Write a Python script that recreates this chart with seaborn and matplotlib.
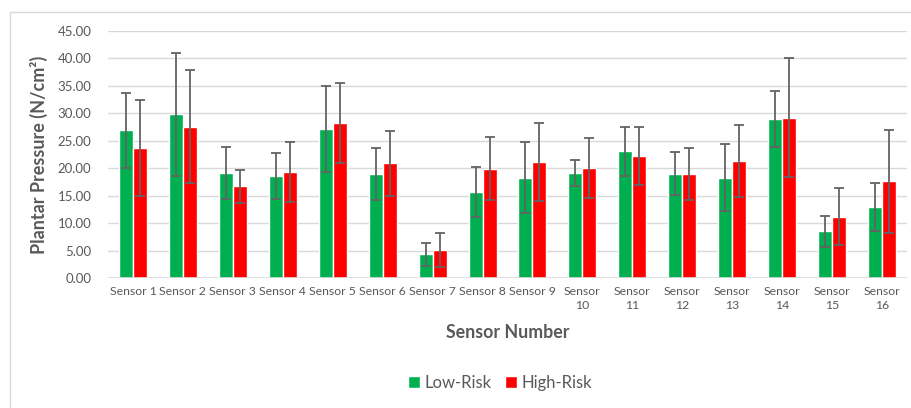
import numpy as np
import pandas as pd
import matplotlib.pyplot as plt
import seaborn as sns
from matplotlib.patches import Rectangle

# values
sensors = ["Sensor %d" % i for i in range(1, 17)]
tick_labels = ["Sensor 1", "Sensor 2", "Sensor 3", "Sensor 4", "Sensor 5", "Sensor 6",
               "Sensor 7", "Sensor 8", "Sensor 9", "Sensor\n10", "Sensor\n11", "Sensor\n12",
               "Sensor\n13", "Sensor\n14", "Sensor\n15", "Sensor\n16"]
low_mean = [26.9, 29.8, 19.1, 18.6, 27.1, 19.0, 4.3, 15.7, 18.3, 19.1, 23.1, 19.0, 18.3, 29.0, 8.5, 12.9]
low_sd = [6.8, 11.2, 4.7, 4.2, 7.8, 4.7, 2.1, 4.6, 6.5, 2.4, 4.5, 3.9, 6.1, 5.1, 2.8, 4.4]
high_mean = [23.7, 27.6, 16.7, 19.3, 28.3, 20.9, 5.1, 19.9, 21.1, 20.0, 22.2, 19.0, 21.3, 29.2, 11.2, 17.6]
high_sd = [8.7, 10.3, 3.0, 5.5, 7.3, 5.9, 3.1, 5.7, 7.1, 5.5, 5.3, 4.7, 6.6, 10.8, 5.2, 9.4]
groups = ["Low-Risk", "High-Risk"]

df = pd.DataFrame({
    "Sensor": sensors * 2,
    "Pressure": low_mean + high_mean,
    "Group": [groups[0]] * 16 + [groups[1]] * 16,
})
sds = {groups[0]: low_sd, groups[1]: high_sd}

sns.set_style("white")
plt.rcParams['font.family'] = ['Lato', 'DejaVu Sans']
txt = "#595959"

fig = plt.figure(figsize=(9.12, 4.08), dpi=100)
ax = fig.add_axes([108/912, 130/408, 799/912, 247/408])

sns.barplot(data=df, x="Sensor", y="Pressure", hue="Group", palette=["#00B050", "#FF0000"],
            width=0.56, saturation=1, errorbar=None, ax=ax)

# error bars (SD) on top of each bar
for cont, g in zip(ax.containers, groups):
    xs = [b.get_x() + b.get_width() / 2 for b in cont]
    ys = [b.get_height() for b in cont]
    ax.errorbar(xs, ys, yerr=sds[g], fmt="none", ecolor="#636363",
                elinewidth=1.3, capsize=3.5, capthick=1.3, zorder=3)

ax.set_xlim(-0.5, 15.5)
ax.set_ylim(0, 45)
ax.set_yticks(np.arange(0, 46, 5))
ax.set_yticklabels(["%.2f" % v for v in np.arange(0, 46, 5)])
ax.set_xticks(range(16))
ax.set_xticklabels(tick_labels, linespacing=1.35)
ax.tick_params(axis="y", length=0, pad=12, labelsize=9.5, labelcolor=txt)
ax.tick_params(axis="x", length=0, pad=6, labelsize=8.8, labelcolor=txt)
ax.yaxis.grid(True, color="#d9d9d9", lw=1)
ax.set_axisbelow(True)
for s in ax.spines.values():
    s.set_visible(False)
ax.axhline(0, color="#d9d9d9", lw=1.2, zorder=1)

ax.set_ylabel("Plantar Pressure (N/cm²)", fontsize=13, fontweight="bold", color=txt, labelpad=7)
ax.set_xlabel("Sensor Number", fontsize=12.8, fontweight="bold", color=txt, labelpad=9)

h, l = ax.get_legend_handles_labels()
ax.get_legend().remove()
fig.legend(h, l, loc="center", bbox_to_anchor=(500/912, 1 - 383/408), ncol=2, frameon=False,
           fontsize=12, labelcolor=txt, handlelength=0.7, handleheight=0.7,
           handletextpad=0.3, columnspacing=0.8)

# light chart-area border
fig.patches.append(Rectangle((10/912, -0.1), 1.1, 1.1 - 12/408, transform=fig.transFigure,
                             fill=False, edgecolor="#d9d9d9", lw=1))

fig.savefig("out.png", dpi=100)
